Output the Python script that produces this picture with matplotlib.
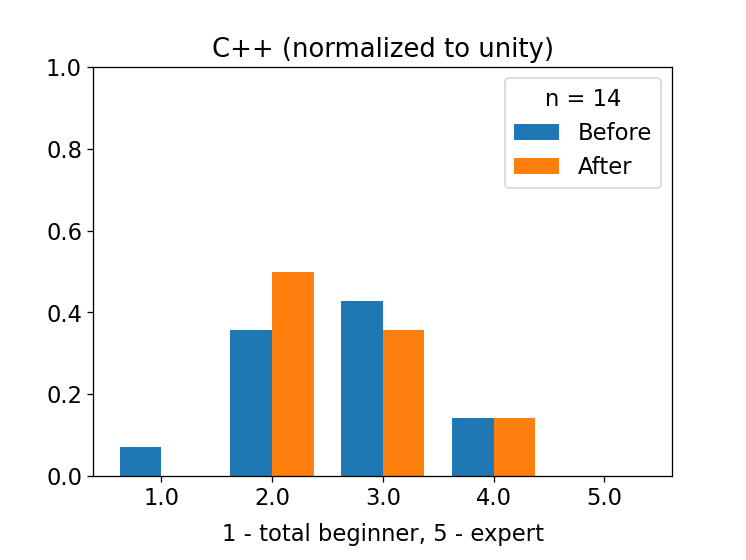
import numpy as np
import matplotlib
matplotlib.use('Agg')
import matplotlib.pyplot as plt

plt.rcParams['font.size'] = 14

levels = [1.0, 2.0, 3.0, 4.0, 5.0]
before = [1 / 14, 5 / 14, 6 / 14, 2 / 14, 0.0]
after = [0.0, 7 / 14, 5 / 14, 2 / 14, 0.0]
n_answers = 14

fig, ax = plt.subplots(figsize=(6.4, 4.8), dpi=116.7)
fig.subplots_adjust(bottom=0.15)

width = 0.375
x = np.array(levels)
ax.bar(x - width / 2, before, width, label='Before')
ax.bar(x + width / 2, after, width, label='After')

ax.set_ylim(0, 1.0)
ax.set_xticks(levels)
ax.set_xticklabels([str(v) for v in levels])
ax.set_title('C++ (normalized to unity)', fontsize=16)
ax.set_xlabel('1 - total beginner, 5 - expert', labelpad=8)
ax.legend(title='n = %d' % n_answers, loc='upper right')

fig.savefig('out.png')
